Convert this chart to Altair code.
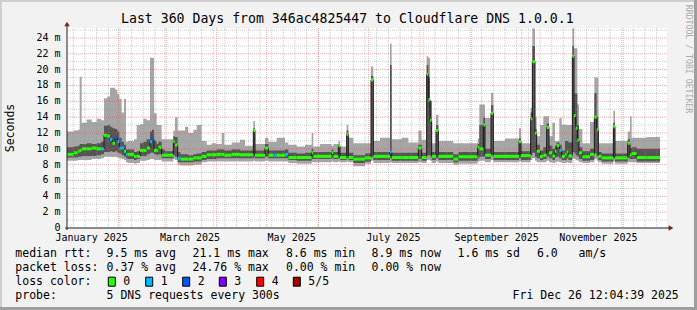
import datetime as dt
import altair as alt
import pandas as pd

# ---------------- data (days since 2025-01-01, values in ms) ----------------
seg_start = [0.2, 4.2, 6.6, 7.8, 9.0, 12.0, 15.0, 18.0, 20.6, 22.4, 24.4, 26.0, 27.4, 29.0, 30.4, 31.6, 33.0, 34.4,
             35.6, 36.6, 40.4, 42.0, 44.0, 46.0, 48.0, 50.0, 51.2, 52.4, 54.0, 55.0, 57.0, 59.0, 64.0, 65.0, 66.6,
             68.2, 71.0, 73.0, 76.0, 78.0, 81.0, 84.0, 87.0, 90.0, 93.0, 94.6, 99.0, 104.0, 107.0, 112.0, 113.0,
             119.0, 121.0, 124.0, 126.0, 131.0, 133.0, 138.0, 143.0, 147.0, 148.0, 152.0, 159.0, 160.0, 163.0,
             164.0, 168.0, 169.0, 172.0, 179.0, 182.6, 184.0, 188.0, 194.0, 195.0, 201.0, 205.0, 211.0, 213.0,
             216.0, 217.0, 218.0, 219.0, 221.6, 223.0, 232.0, 235.0, 246.6, 247.6, 250.0, 251.0, 254.6, 256.0,
             263.0, 271.4, 272.6, 278.4, 279.4, 281.0, 282.0, 284.0, 286.0, 288.0, 289.4, 291.4, 293.0, 294.0,
             295.6, 297.0, 299.0, 300.0, 301.0, 303.4, 304.4, 305.4, 306.4, 307.4, 309.4, 314.0, 316.6, 318.0,
             319.0, 321.0, 328.0, 329.0, 336.6, 338.0, 339.0, 342.0, 348.0]
data_end = 356.0
ping_min = [8.5, 8.5, 8.6, 8.6, 8.6, 8.6, 8.7, 8.7, 8.8, 9.0, 9.0, 9.0, 9.0, 9.0, 8.9, 8.8, 8.7, 8.6,
            8.3, 8.2, 8.1, 8.2, 8.5, 8.5, 8.6, 8.7, 8.7, 8.6, 8.6, 8.6, 8.4, 8.4, 8.7, 8.6, 8.0,
            7.9, 7.9, 7.9, 8.0, 8.0, 8.3, 8.4, 8.4, 8.4, 8.4, 8.4, 8.4, 8.4, 8.4, 8.5, 8.4,
            8.5, 8.4, 8.4, 8.4, 8.4, 8.2, 8.1, 8.1, 8.3, 8.3, 8.3, 8.4, 8.3, 8.4,
            8.3, 8.4, 8.3, 7.8, 8.1, 8.5, 8.2, 8.2, 8.3, 8.2, 8.2, 8.2, 8.3, 8.2,
            8.6, 8.6, 8.5, 8.2, 8.4, 8.2, 8.0, 8.1, 8.4, 8.5, 8.5, 8.3, 8.6, 8.3,
            8.3, 8.4, 8.3, 8.6, 8.8, 8.5, 8.3, 8.3, 8.3, 8.5, 8.3, 8.2, 8.3, 8.4,
            8.3, 8.2, 8.2, 8.3, 8.2, 8.8, 8.7, 8.6, 8.5, 8.3, 8.2, 8.3, 8.7, 8.5,
            8.3, 8.1, 8.4, 8.1, 8.3, 8.3, 8.3, 8.2, 8.2]
ping_low = [8.9, 8.9, 9.0, 9.0, 9.1, 9.1, 9.1, 9.2, 9.3, 9.6, 9.6, 9.7, 9.6, 9.7, 9.5, 9.4, 9.2, 9.0,
            8.8, 8.7, 8.6, 8.7, 9.1, 9.1, 9.3, 9.5, 9.5, 9.3, 9.2, 9.3, 8.8, 8.8, 9.2, 9.0, 8.3,
            8.3, 8.3, 8.3, 8.4, 8.4, 8.6, 8.7, 8.7, 8.8, 8.8, 8.8, 8.8, 8.8, 8.8, 8.9, 8.8,
            9.0, 8.8, 8.8, 8.8, 8.8, 8.6, 8.5, 8.5, 8.7, 8.7, 8.7, 8.8, 8.7, 8.8,
            8.6, 8.8, 8.6, 8.2, 8.4, 9.0, 8.6, 8.6, 8.8, 8.5, 8.5, 8.5, 8.7, 8.5,
            9.2, 9.2, 9.0, 8.6, 8.8, 8.6, 8.3, 8.5, 8.8, 9.0, 9.0, 8.7, 9.2, 8.6,
            8.6, 8.8, 8.6, 9.2, 9.5, 9.0, 8.8, 8.6, 8.7, 9.0, 8.8, 8.6, 8.9, 9.0,
            8.8, 8.6, 8.6, 8.8, 8.6, 9.6, 9.4, 9.2, 9.0, 8.7, 8.5, 8.6, 9.4, 9.1,
            8.6, 8.4, 8.8, 8.4, 8.8, 8.7, 8.7, 8.4, 8.4]
median = [9.3, 9.5, 9.7, 9.8, 10.0, 10.0, 10.1, 10.0, 10.0, 11.7, 11.6, 11.2, 10.7, 11.4, 10.9, 10.1, 10.1, 9.7,
          9.3, 9.3, 9.05, 9.05, 9.8, 9.8, 10.1, 10.9, 11.2, 9.8, 9.8, 10.2, 9.2, 9.2, 10.9, 10.5, 8.8,
          8.7, 8.7, 8.7, 8.85, 8.85, 9.05, 9.25, 9.25, 9.3, 9.3, 9.2, 9.3, 9.25, 9.25, 12.3, 9.2,
          10.1, 9.2, 9.2, 9.2, 9.3, 8.9, 8.9, 8.9, 9.5, 9.05, 9.05, 9.5, 9.05, 10.4,
          8.9, 11.8, 8.9, 8.7, 8.85, 18.7, 9.05, 9.05, 9.6, 8.9, 8.9, 8.9, 10.1, 8.9,
          19.4, 16.2, 13.6, 9.05, 12.3, 9.05, 8.7, 9.0, 10.2, 10.0, 13.0, 9.2, 14.5, 9.05,
          9.05, 10.9, 9.15, 13.8, 21.0, 12.0, 9.7, 9.05, 9.2, 12.7, 9.5, 9.1, 9.7, 10.4,
          9.8, 9.05, 9.3, 9.6, 9.1, 21.7, 14.2, 12.6, 11.1, 9.5, 9.0, 9.3, 14.0, 12.4,
          9.05, 8.85, 12.8, 8.85, 10.7, 9.25, 9.4, 8.9, 8.9]
ping_high = [10.2, 10.3, 10.4, 10.6, 10.6, 10.7, 10.6, 10.7, 10.9, 12.9, 13.0, 12.8, 12.6, 12.5, 12.2, 11.4, 10.9, 10.5,
             9.9, 9.9, 9.6, 9.7, 10.7, 10.9, 11.2, 12.2, 12.4, 11.0, 10.6, 10.9, 9.9, 9.7, 11.6, 11.5, 9.6,
             9.3, 9.3, 9.2, 9.3, 9.4, 9.6, 9.8, 9.8, 9.9, 9.9, 9.8, 9.9, 9.8, 9.8, 12.6, 9.8,
             10.6, 9.8, 9.8, 9.8, 9.9, 9.5, 9.4, 9.5, 10.0, 9.6, 9.6, 9.9, 9.6, 10.6,
             9.5, 12.3, 9.5, 9.2, 9.4, 19.2, 9.6, 9.6, 20.6, 9.5, 9.5, 9.5, 10.5, 9.5,
             20.6, 19.0, 16.0, 9.6, 13.0, 9.6, 9.3, 9.6, 10.6, 13.0, 14.0, 10.0, 15.5, 9.6,
             9.6, 11.3, 9.7, 14.6, 23.0, 12.5, 10.5, 9.8, 10.2, 13.2, 10.4, 10.0, 10.4, 10.8,
             10.5, 9.8, 11.0, 11.0, 10.8, 23.0, 17.0, 17.0, 13.0, 10.2, 9.7, 10.0, 17.05, 14.0,
             9.6, 9.4, 13.3, 9.4, 11.2, 10.1, 10.2, 10.0, 10.0]
ping_max = [12.2, 12.3, 12.4, 19.1, 13.3, 13.7, 13.4, 13.8, 13.6, 16.4, 16.6, 17.7, 17.7, 17.5, 16.9, 16.3, 14.6, 16.3,
            10.9, 11.0, 11.2, 13.0, 13.1, 13.8, 13.6, 21.5, 21.5, 14.5, 13.0, 13.0, 11.2, 11.2, 12.3, 14.0, 12.3,
            12.3, 12.8, 12.0, 12.4, 13.0, 11.0, 10.5, 10.7, 10.6, 12.0, 10.5, 10.8, 11.15, 10.4, 13.5, 10.6,
            11.4, 10.9, 10.9, 11.4, 10.8, 10.5, 10.3, 10.5, 12.0, 10.3, 10.6, 10.4, 10.6, 11.0,
            10.3, 13.05, 11.4, 10.7, 10.7, 20.4, 11.0, 11.4, 23.3, 11.2, 11.4, 10.8, 12.3, 11.15,
            21.7, 21.5, 16.1, 10.7, 14.3, 11.0, 10.7, 10.7, 11.3, 15.6, 15.6, 13.9, 17.05, 11.0,
            11.3, 12.6, 10.7, 15.2, 25.2, 14.0, 11.6, 13.0, 14.1, 14.1, 11.6, 13.3, 11.0, 11.0,
            13.9, 13.05, 13.05, 13.05, 13.0, 25.2, 22.7, 22.7, 15.6, 12.5, 10.7, 13.4, 19.0, 19.0,
            10.7, 10.7, 14.8, 11.0, 12.2, 14.1, 11.4, 11.4, 11.5]
loss = [0, 0, 0, 0, 0, 0, 0, 0, 1, 0, 0, 1, 0, 2, 1, 1, 1, 0,
        1, 0, 0, 0, 0, 0, 0, 1, 2, 0, 0, 0, 0, 0, 0, 0, 1,
        0, 0, 0, 0, 0, 0, 0, 0, 0, 0, 0, 0, 0, 0, 0, 0,
        0, 0, 1, 0, 1, 0, 0, 0, 0, 0, 0, 0, 0, 0,
        0, 0, 0, 0, 0, 0, 0, 0, 1, 0, 0, 0, 0, 0,
        0, 0, 0, 0, 0, 0, 0, 0, 0, 0, 0, 0, 0, 0,
        0, 0, 0, 0, 0, 0, 0, 0, 0, 0, 0, 0, 0, 0,
        1, 0, 0, 0, 0, 0, 0, 0, 0, 0, 0, 0, 0, 0,
        0, 0, 0, 0, 0, 0, 0, 0, 0]

loss_labels = ["0", "1", "2", "3", "4", "5/5"]
loss_colors = ["#26ff00", "#00b8ff", "#0059ff", "#7e00ff", "#ff0000", "#a10000"]

y_ticks = [0, 2, 4, 6, 8, 10, 12, 14, 16, 18, 20, 22, 24]
label_months = [1, 3, 5, 7, 9, 11]
grid_months = [2, 3, 4, 5, 6, 7, 8, 9, 10, 11, 12]

title_text = "Last 360 Days from 346ac4825447 to Cloudflare DNS 1.0.0.1"
legend_lines = [
    ["median rtt:", "9.5 ms avg", "21.1 ms max", "8.6 ms min", "8.9 ms now", "1.6 ms sd", "6.0", "am/s"],
    ["packet loss:", "0.37 % avg", "24.76 % max", "0.00 % min", "0.00 % now"],
    ["loss color:"],
    ["probe:", "5 DNS requests every 300s", "Fri Dec 26 12:04:39 2025"],
]

# ---------------- layout ----------------
W, H = 600, 200
PAD = {"left": 67, "top": 28, "right": 30, "bottom": 82}
X_DOM = [0.2, 360.2]
Y_DOM = [0, 25.26]
MONO = "DejaVu Sans Mono"
legend_x = [
    [15.3, 106.6, 192.6, 286.0, 371.6, 457.6, 537.0, 578.6],
    [15.3, 106.6, 192.6, 286.0, 371.6],
    [15.3],
    [15.3, 106.6, 512.6],
]
legend_y = [254.3, 267.7, 281.7, 296.0]
box_x = [108.3, 145.7, 182.7, 219.3, 256.7, 293.3]

jan1 = dt.date(2025, 1, 1)

xs = alt.Scale(domain=X_DOM, nice=False, zero=False)
ys = alt.Scale(domain=Y_DOM, nice=False, zero=False)

# step data
rows = []
for i, s in enumerate(seg_start):
    rows.append(dict(d=s, p1=ping_min[i], p2=ping_low[i], med=median[i], p4=ping_high[i], p5=ping_max[i]))
rows.append(dict(d=data_end, p1=ping_min[-1], p2=ping_low[-1], med=median[-1], p4=ping_high[-1], p5=ping_max[-1]))
step_df = pd.DataFrame(rows)

seg_df = pd.DataFrame(dict(
    s=seg_start,
    e=seg_start[1:] + [data_end],
    med=median,
    loss=[loss_labels[k] for k in loss],
))

one = pd.DataFrame({"k": [0]})

outer = alt.Chart(step_df).mark_area(interpolate="step-after", color="#a6a6a6", clip=True).encode(
    x=alt.X("d:Q", scale=xs, axis=None), y=alt.Y("p1:Q", scale=ys, axis=None), y2="p5:Q")
inner = alt.Chart(step_df).mark_area(interpolate="step-after", color="#555555", clip=True).encode(
    x=alt.X("d:Q", scale=xs, axis=None), y=alt.Y("p2:Q", scale=ys, axis=None), y2="p4:Q")
medline = alt.Chart(step_df).mark_line(interpolate="step-after", color="#1a1a1a", strokeWidth=1).encode(
    x=alt.X("d:Q", scale=xs, axis=None), y=alt.Y("med:Q", scale=ys, axis=None))
medcol = alt.Chart(seg_df).mark_rule(strokeWidth=3).encode(
    x=alt.X("s:Q", scale=xs, axis=None), x2="e:Q", y=alt.Y("med:Q", scale=ys, axis=None),
    color=alt.Color("loss:N", scale=alt.Scale(domain=loss_labels, range=loss_colors), legend=None))

# grid
week_days = list(range(4, 361, 7))
month_days = [(dt.date(2025, m, 1) - jan1).days for m in grid_months]
minor_v = alt.Chart(pd.DataFrame({"g": week_days})).mark_rule(
    color="#8f8f8f", strokeDash=[1, 1], opacity=0.45, strokeWidth=1).encode(x=alt.X("g:Q", scale=xs, axis=None))
major_v = alt.Chart(pd.DataFrame({"g": month_days})).mark_rule(
    color="#de4f4f", strokeDash=[1, 1], opacity=0.45, strokeWidth=1).encode(x=alt.X("g:Q", scale=xs, axis=None))
minor_h = alt.Chart(pd.DataFrame({"g": list(range(1, 26, 2))})).mark_rule(
    color="#8f8f8f", strokeDash=[1, 1], opacity=0.45, strokeWidth=1).encode(y=alt.Y("g:Q", scale=ys, axis=None))
major_h = alt.Chart(pd.DataFrame({"g": y_ticks[1:]})).mark_rule(
    color="#de4f4f", strokeDash=[1, 1], opacity=0.45, strokeWidth=1).encode(y=alt.Y("g:Q", scale=ys, axis=None))

# axes
yaxis = alt.Chart(one).mark_rule(color="#1f1f1f", strokeWidth=1).encode(
    x=alt.value(0), y=alt.value(H + 2), y2=alt.value(-3))
xaxis = alt.Chart(one).mark_rule(color="#1f1f1f", strokeWidth=1).encode(
    x=alt.value(-2), x2=alt.value(W + 4), y=alt.value(H))
yarrow = alt.Chart(one).mark_point(shape="triangle-up", filled=True, color="#7f1f1f", size=30, opacity=1).encode(
    x=alt.value(0), y=alt.value(-4))
xarrow = alt.Chart(one).mark_point(shape="triangle-right", filled=True, color="#7f1f1f", size=30, opacity=1).encode(
    x=alt.value(W + 4), y=alt.value(H))

ylab_df = pd.DataFrame({"v": y_ticks, "t": ["0\u00a0\u00a0" if v == 0 else f"{v} m" for v in y_ticks]})
ylabels = alt.Chart(ylab_df).mark_text(align="right", baseline="middle", font=MONO, fontSize=10, color="black").encode(
    y=alt.Y("v:Q", scale=ys, axis=None), x=alt.value(-6.5), text="t:N")

xlab_df = pd.DataFrame({
    "v": [(dt.date(2025, m, 16) - jan1).days for m in label_months],
    "t": [dt.date(2025, m, 1).strftime("%B %Y") for m in label_months],
})
xlabels = alt.Chart(xlab_df).mark_text(align="center", baseline="middle", font=MONO, fontSize=10, color="black").encode(
    x=alt.X("v:Q", scale=xs, axis=None), y=alt.value(237.7 - PAD["top"]), text="t:N")

# texts (pixel positions on the canvas, converted to plot coordinates)
trows = []
for li, items in enumerate(legend_lines):
    for ti, txt in enumerate(items):
        trows.append(dict(t=txt, px=legend_x[li][ti] - PAD["left"], py=legend_y[li] - PAD["top"]))
legend_txt = alt.Chart(pd.DataFrame(trows)).mark_text(
    align="left", baseline="middle", font=MONO, fontSize=11.5, color="black").encode(
    x=alt.X("px:Q", scale=None), y=alt.Y("py:Q", scale=None), text="t:N")

brows = [dict(px=bx - PAD["left"], px2=bx + 7 - PAD["left"], py=277.2 - PAD["top"], py2=286.2 - PAD["top"],
              c=loss_colors[i], t=loss_labels[i], tx=bx + 15 - PAD["left"], ty=legend_y[2] - PAD["top"])
         for i, bx in enumerate(box_x)]
bdf = pd.DataFrame(brows)
boxes = alt.Chart(bdf).mark_rect(stroke="black", strokeWidth=1).encode(
    x=alt.X("px:Q", scale=None), x2="px2:Q", y=alt.Y("py:Q", scale=None), y2="py2:Q",
    fill=alt.Fill("c:N", scale=None))
box_txt = alt.Chart(bdf).mark_text(align="left", baseline="middle", font=MONO, fontSize=11.5, color="black").encode(
    x=alt.X("tx:Q", scale=None), y=alt.Y("ty:Q", scale=None), text="t:N")

title = alt.Chart(one).mark_text(align="center", baseline="middle", font=MONO, fontSize=13.2, color="black",
                                 text=title_text).encode(x=alt.value(347.3 - PAD["left"]), y=alt.value(19 - PAD["top"]))
ytitle = alt.Chart(one).mark_text(align="center", baseline="middle", font=MONO, fontSize=11.5, color="black",
                                  angle=270, text="Seconds").encode(x=alt.value(10.5 - PAD["left"]), y=alt.value(128 - PAD["top"]))
rrd = alt.Chart(one).mark_text(align="center", baseline="middle", font=MONO, fontSize=8.2, color="#aaaaaa",
                               angle=90, text="RRDTOOL / TOBI OETIKER").encode(
    x=alt.value(688.3 - PAD["left"]), y=alt.value(59 - PAD["top"]))

# frame shading
L, T = -PAD["left"], -PAD["top"]
R, B = W + PAD["right"], H + PAD["bottom"]
shade_a1 = alt.Chart(one).mark_rect(color="#cfcfcf").encode(x=alt.value(L), x2=alt.value(R), y=alt.value(T), y2=alt.value(T + 2))
shade_a2 = alt.Chart(one).mark_rect(color="#cfcfcf").encode(x=alt.value(L), x2=alt.value(L + 2), y=alt.value(T), y2=alt.value(B))
shade_b1 = alt.Chart(one).mark_rect(color="#9e9e9e").encode(x=alt.value(L), x2=alt.value(R), y=alt.value(B - 3), y2=alt.value(B))
shade_b2 = alt.Chart(one).mark_rect(color="#9e9e9e").encode(x=alt.value(R - 3), x2=alt.value(R), y=alt.value(T), y2=alt.value(B))

chart = alt.layer(
    outer, inner, minor_v, minor_h, major_v, major_h, medline, medcol,
    yaxis, xaxis, yarrow, xarrow, ylabels, xlabels, legend_txt, boxes, box_txt,
    title, ytitle, rrd, shade_a1, shade_a2, shade_b1, shade_b2,
).properties(
    width=W, height=H, background="#f2f2f2",
    autosize=alt.AutoSizeParams(type="none"), padding=PAD,
).configure_view(fill="white", stroke=None)

chart.save("out.html", embed_options={"renderer": "svg", "actions": False})
